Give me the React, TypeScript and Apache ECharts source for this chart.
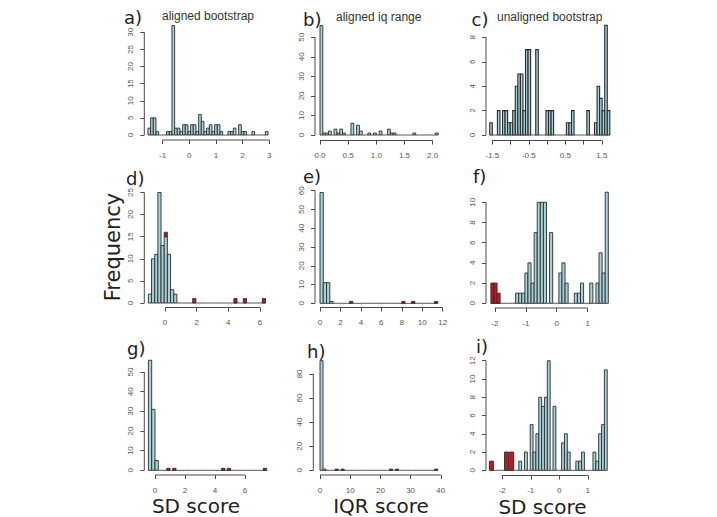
import React, { useEffect, useRef } from "react";
import * as echarts from "echarts";

// ---------- colours ----------
const BAR_FILL = "#a7d2dc";
const RED_FILL = "#c4161c";
const EDGE = "#2a2a2a";
const AXIS = "#4a4a4a";
const LABEL = "#555555";

// ---------- a) aligned bootstrap ----------
const aStart = -1.55;
const aBin = 0.1;
const aCounts = [2, 5, 5, 1, 0, 0, 0, 1, 1, 32, 2, 2, 1, 3, 3, 1, 3, 3, 1, 6, 4, 1, 2, 3, 1, 3, 3, 1, 0, 0, 1, 1, 2, 0, 3, 1, 1, 0, 0, 1, 0, 0, 0, 0, 1];
const aXTicks = [-1, 0, 1, 2, 3];
const aYTicks = [0, 5, 10, 15, 20, 25, 30];

// ---------- b) aligned iq range ----------
const bStart = 0;
const bBin = 0.05;
const bCounts = [56, 1, 1, 2, 0, 3, 1, 3, 1, 0, 0, 6, 0, 5, 2, 0, 0, 1, 0, 1, 0, 2, 0, 0, 3, 1, 1, 0, 0, 0, 0, 0, 0, 1, 0, 0, 0, 0, 0, 0, 0, 1];
const bXTicks = [0, 0.5, 1, 1.5, 2];
const bYTicks = [0, 10, 20, 30, 40, 50];

// ---------- c) unaligned bootstrap ----------
const cStart = -1.57;
const cBin = 0.07;
const cCounts = [1, 0, 0, 2, 0, 2, 2, 1, 1, 2, 4, 5, 5, 2, 7, 7, 0, 0, 7, 0, 0, 0, 2, 2, 2, 0, 0, 0, 0, 0, 1, 1, 2, 0, 0, 0, 0, 0, 2, 0, 0, 1, 4, 3, 2, 9, 2];
const cXTicks = [-1.5, -1, -0.5, 0, 0.5, 1, 1.5];
const cXLabels = [-1.5, -0.5, 0.5, 1.5];
const cYTicks = [0, 2, 4, 6, 8];

// ---------- d) ----------
const dStart = -1.05;
const dBin = 0.2;
const dCounts = [2, 10, 11, 25, 13, 15, 11, 3, 2, 0, 0, 0, 0, 0, 0, 0, 0, 0, 0, 0, 0, 0, 0, 0, 0, 0, 0, 0, 0, 0, 0, 0, 0, 0, 0, 0, 0];
const dRedStarts = [-0.05, 1.75, 4.35, 4.95, 6.15];
const dRedCounts = [1, 1, 1, 1, 1];
const dXTicks = [0, 2, 4, 6];
const dYTicks = [0, 5, 10, 15, 20, 25];

// ---------- e) ----------
const eStart = 0;
const eBin = 0.32;
const eCounts = [59, 11, 11, 1, 0, 0, 0, 0, 0, 0, 0, 0, 0, 0, 0, 0, 0, 0, 0, 0, 0, 0, 0, 0, 0, 0, 0, 0, 0, 0, 0, 0, 0, 0, 0, 0];
const eRedStarts = [2.88, 8.0, 8.96, 11.2];
const eRedCounts = [1, 1, 1, 1];
const eXTicks = [0, 2, 4, 6, 8, 10, 12];
const eYTicks = [0, 10, 20, 30, 40, 50, 60];

// ---------- f) ----------
const fStart = -2.13;
const fBin = 0.1;
const fCounts = [0, 0, 0, 0, 0, 0, 0, 0, 1, 1, 1, 3, 4, 2, 7, 10, 10, 10, 0, 7, 0, 0, 3, 4, 2, 0, 0, 1, 1, 2, 0, 0, 2, 0, 2, 5, 3, 11];
const fRedStarts = [-2.13, -2.03, -1.93];
const fRedCounts = [2, 2, 1];
const fXTicks = [-2, -1, 0, 1];
const fYTicks = [0, 2, 4, 6, 8, 10];

// ---------- g) ----------
const gStart = -0.44;
const gBin = 0.22;
const gCounts = [56, 31, 5, 0, 0, 0, 0, 0, 0, 0, 0, 0, 0, 0, 0, 0, 0, 0, 0, 0, 0, 0, 0, 0, 0, 0, 0, 0, 0, 0, 0, 0, 0, 0, 0, 0];
const gRedStarts = [0.78, 1.18, 4.44, 4.82, 7.22];
const gRedCounts = [1, 1, 1, 1, 1];
const gXTicks = [0, 2, 4, 6];
const gYTicks = [0, 10, 20, 30, 40, 50];

// ---------- h) ----------
const hStart = 0;
const hBin = 1;
const hCounts = [91, 1, 0, 0, 0, 0, 0, 0, 0, 0, 0, 0, 0, 0, 0, 0, 0, 0, 0, 0, 0, 0, 0, 0, 0, 0, 0, 0, 0, 0, 0, 0, 0, 0, 0, 0, 0, 0, 0];
const hRedStarts = [5, 7, 23, 25, 38];
const hRedCounts = [1, 1, 1, 1, 1];
const hXTicks = [0, 10, 20, 30, 40];
const hYTicks = [0, 20, 40, 60, 80];

// ---------- i) ----------
const iStart = -2.42;
const iBin = 0.1;
const iCounts = [0, 0, 0, 0, 0, 0, 0, 0, 0, 0, 1, 0, 2, 0, 5, 2, 4, 8, 7, 8, 12, 0, 7, 0, 0, 3, 4, 2, 0, 0, 1, 1, 2, 0, 0, 0, 2, 1, 4, 5, 11];
const iRedStarts = [-2.45, -1.92, -1.74];
const iRedCounts = [1, 2, 2];
const iXTicks = [-2, -1, 0, 1];
const iYTicks = [0, 2, 4, 6, 8, 10, 12];

type Hist = { start: number; bin: number; counts: number[] };
type Red = { starts: number[]; counts: number[]; bin: number } | null;
type Frame = {
  yAxisX: number; xAxisY: number; xZero: number; xPpu: number;
  yZero: number; yPpu: number; xMax: number; yMax: number;
};
type Panel = {
  hist: Hist; red: Red; xTicks: number[]; xLabels: number[]; yTicks: number[];
  digits: number; edge: number; frame: Frame;
};

const panels: Panel[] = [
  { hist: { start: aStart, bin: aBin, counts: aCounts }, red: null, xTicks: aXTicks, xLabels: aXTicks, yTicks: aYTicks, digits: 0, edge: 0.9,
    frame: { yAxisX: 144.3, xAxisY: 140, xZero: 189.3, xPpu: 26.67, yZero: 135, yPpu: 3.423, xMax: 3.1, yMax: 33 } },
  { hist: { start: bStart, bin: bBin, counts: bCounts }, red: null, xTicks: bXTicks, xLabels: bXTicks, yTicks: bYTicks, digits: 1, edge: 0.9,
    frame: { yAxisX: 315, xAxisY: 140.5, xZero: 320, xPpu: 56.3, yZero: 135, yPpu: 1.954, xMax: 2.15, yMax: 57 } },
  { hist: { start: cStart, bin: cBin, counts: cCounts }, red: null, xTicks: cXTicks, xLabels: cXLabels, yTicks: cYTicks, digits: 1, edge: 1.1,
    frame: { yAxisX: 486, xAxisY: 140.5, xZero: 547.05, xPpu: 36.5, yZero: 135, yPpu: 12.2, xMax: 1.75, yMax: 9.2 } },
  { hist: { start: dStart, bin: dBin, counts: dCounts }, red: { starts: dRedStarts, counts: dRedCounts, bin: dBin }, xTicks: dXTicks, xLabels: dXTicks, yTicks: dYTicks, digits: 0, edge: 0.9,
    frame: { yAxisX: 144.3, xAxisY: 307.5, xZero: 165, xPpu: 15.83, yZero: 303, yPpu: 4.42, xMax: 6.5, yMax: 26 } },
  { hist: { start: eStart, bin: eBin, counts: eCounts }, red: { starts: eRedStarts, counts: eRedCounts, bin: eBin }, xTicks: eXTicks, xLabels: eXTicks, yTicks: eYTicks, digits: 0, edge: 0.9,
    frame: { yAxisX: 315, xAxisY: 307.5, xZero: 320, xPpu: 10.22, yZero: 303.3, yPpu: 1.877, xMax: 12.2, yMax: 61 } },
  { hist: { start: fStart, bin: fBin, counts: fCounts }, red: { starts: fRedStarts, counts: fRedCounts, bin: fBin }, xTicks: fXTicks, xLabels: fXTicks, yTicks: fYTicks, digits: 0, edge: 0.9,
    frame: { yAxisX: 486, xAxisY: 308, xZero: 556.7, xPpu: 30.9, yZero: 303.3, yPpu: 10.1, xMax: 1.72, yMax: 11.2 } },
  { hist: { start: gStart, bin: gBin, counts: gCounts }, red: { starts: gRedStarts, counts: gRedCounts, bin: gBin }, xTicks: gXTicks, xLabels: gXTicks, yTicks: gYTicks, digits: 0, edge: 0.9,
    frame: { yAxisX: 144.3, xAxisY: 475, xZero: 155, xPpu: 15, yZero: 470.3, yPpu: 1.965, xMax: 7.5, yMax: 57 } },
  { hist: { start: hStart, bin: hBin, counts: hCounts }, red: { starts: hRedStarts, counts: hRedCounts, bin: hBin }, xTicks: hXTicks, xLabels: hXTicks, yTicks: hYTicks, digits: 0, edge: 0.9,
    frame: { yAxisX: 313.3, xAxisY: 475, xZero: 320, xPpu: 3.02, yZero: 470.3, yPpu: 1.205, xMax: 40, yMax: 92 } },
  { hist: { start: iStart, bin: iBin, counts: iCounts }, red: { starts: iRedStarts, counts: iRedCounts, bin: 0.14 }, xTicks: iXTicks, xLabels: iXTicks, yTicks: iYTicks, digits: 0, edge: 0.9,
    frame: { yAxisX: 486, xAxisY: 475.5, xZero: 559.3, xPpu: 28.53, yZero: 470.3, yPpu: 9.13, xMax: 1.75, yMax: 12.2 } },
];

const panelTags = ["a)", "b)", "c)", "d)", "e)", "f)", "g)", "h)", "i)"];
const tagPos = [
  [124, 17.5], [303, 19], [471.5, 19],
  [126, 178], [303, 176.5], [473, 176.5],
  [127, 348], [307, 351], [476, 346.5],
];
const titles = ["aligned bootstrap", "aligned iq range", "unaligned bootstrap"];
const titlePos = [[208, 16], [378.7, 16.7], [549.7, 16.5]];
const xTitles = ["SD score", "IQR score", "SD score"];
const xTitlePos = [[196, 506], [381, 506], [542.5, 506.5]];

// bins as [left edge, right edge, bottom, top]
function blueItems(h: Hist) {
  return h.counts.map((c, i) => [h.start + i * h.bin, h.start + (i + 1) * h.bin, 0, c]);
}

// red bars sit on top of whatever the blue bin under them holds
function redItems(h: Hist, r: NonNullable<Red>) {
  return r.starts.map((s, i) => {
    const mid = s + r.bin / 2;
    const k = Math.floor((mid - h.start) / h.bin);
    const base = k >= 0 && k < h.counts.length ? h.counts[k] : 0;
    return [s, s + r.bin, base, base + r.counts[i]];
  });
}

function barRenderer(fill: string, edge: number) {
  return (_params: any, api: any) => {
    const x0 = api.value(0);
    const x1 = api.value(1);
    const b = api.value(2);
    const t = api.value(3);
    const p0 = api.coord([x0, b]);
    const p1 = api.coord([x1, t]);
    if (t === b) {
      return {
        type: "line",
        shape: { x1: p0[0], y1: p0[1], x2: p1[0], y2: p0[1] },
        style: { stroke: EDGE, lineWidth: 0.8 },
      };
    }
    return {
      type: "rect",
      shape: { x: p0[0], y: p1[1], width: p1[0] - p0[0], height: p0[1] - p1[1] },
      style: { fill, stroke: EDGE, lineWidth: edge },
    };
  };
}

// R-style axis lines: spanning first to last tick only
function axisRenderer(_params: any, api: any) {
  const xMin = api.value(0);
  const yLo = api.value(1);
  const yHi = api.value(2);
  const xLo = api.value(3);
  const xHi = api.value(4);
  const yMin = api.value(5);
  const a = api.coord([xMin, yLo]);
  const b = api.coord([xMin, yHi]);
  const c = api.coord([xLo, yMin]);
  const d = api.coord([xHi, yMin]);
  return {
    type: "group",
    children: [
      { type: "line", shape: { x1: a[0], y1: a[1], x2: b[0], y2: b[1] }, style: { stroke: AXIS, lineWidth: 1 } },
      { type: "line", shape: { x1: c[0], y1: c[1], x2: d[0], y2: d[1] }, style: { stroke: AXIS, lineWidth: 1 } },
    ],
  };
}

function buildOption() {
  const grid: any[] = [];
  const xAxis: any[] = [];
  const yAxis: any[] = [];
  const series: any[] = [];

  panels.forEach((p, idx) => {
    const f = p.frame;
    const top = f.yZero - f.yMax * f.yPpu;
    const xMin = (f.yAxisX - f.xZero) / f.xPpu;
    const yMin = -(f.xAxisY - f.yZero) / f.yPpu;
    grid.push({
      left: f.yAxisX,
      top,
      width: f.xZero + f.xMax * f.xPpu - f.yAxisX,
      height: f.xAxisY - top,
      containLabel: false,
      outerBoundsMode: "none",
    });
    const fmt = (v: number) => (p.digits > 0 ? v.toFixed(p.digits) : String(v));
    xAxis.push({
      gridIndex: idx,
      type: "value",
      min: xMin,
      max: f.xMax,
      axisLine: { show: false, onZero: false },
      splitLine: { show: false },
      axisTick: { show: true, customValues: p.xTicks, length: 4, lineStyle: { color: AXIS, width: 1 } },
      axisLabel: {
        customValues: p.xLabels,
        fontSize: 8,
        lineHeight: 9,
        fontFamily: "Liberation Sans",
        color: LABEL,
        margin: 10.5,
        formatter: fmt,
      },
    });
    yAxis.push({
      gridIndex: idx,
      type: "value",
      min: yMin,
      max: f.yMax,
      axisLine: { show: false, onZero: false },
      splitLine: { show: false },
      axisTick: { show: true, customValues: p.yTicks, length: 4, lineStyle: { color: AXIS, width: 1 } },
      axisLabel: {
        customValues: p.yTicks,
        rotate: 90,
        fontSize: 8,
        lineHeight: 9,
        fontFamily: "Liberation Sans",
        color: LABEL,
        margin: 9.5,
      },
    });
    series.push({
      type: "custom",
      xAxisIndex: idx,
      yAxisIndex: idx,
      silent: true,
      renderItem: barRenderer(BAR_FILL, p.edge),
      encode: { x: [0, 1], y: [2, 3] },
      data: blueItems(p.hist),
    });
    if (p.red) {
      series.push({
        type: "custom",
        xAxisIndex: idx,
        yAxisIndex: idx,
        silent: true,
        renderItem: barRenderer(RED_FILL, p.edge),
        encode: { x: [0, 1], y: [2, 3] },
        data: redItems(p.hist, p.red),
      });
    }
    series.push({
      type: "custom",
      xAxisIndex: idx,
      yAxisIndex: idx,
      silent: true,
      renderItem: axisRenderer,
      data: [[xMin, p.yTicks[0], p.yTicks[p.yTicks.length - 1], p.xTicks[0], p.xTicks[p.xTicks.length - 1], yMin]],
    });
  });

  const graphic: any[] = [];
  panelTags.forEach((t, i) => {
    graphic.push({
      type: "text",
      x: tagPos[i][0],
      y: tagPos[i][1],
      style: { text: t, fontSize: 18, lineHeight: 18, fontFamily: "DejaVu Sans", fill: "#222", align: "left", verticalAlign: "middle" },
    });
  });
  titles.forEach((t, i) => {
    graphic.push({
      type: "text",
      x: titlePos[i][0],
      y: titlePos[i][1],
      style: { text: t, fontSize: 12, lineHeight: 12, fontFamily: "Liberation Sans", fill: "#333", align: "center", verticalAlign: "middle" },
    });
  });
  xTitles.forEach((t, i) => {
    graphic.push({
      type: "text",
      x: xTitlePos[i][0],
      y: xTitlePos[i][1],
      style: { text: t, fontSize: 20, lineHeight: 20, fontFamily: "DejaVu Sans", fill: "#222", align: "center", verticalAlign: "middle" },
    });
  });
  graphic.push({
    type: "text",
    x: 113,
    y: 247,
    rotation: Math.PI / 2,
    style: { text: "Frequency", fontSize: 21, lineHeight: 21, fontFamily: "DejaVu Sans", fill: "#222", align: "center", verticalAlign: "middle" },
  });

  return {
    animation: false,
    backgroundColor: "#ffffff",
    grid,
    xAxis,
    yAxis,
    series,
    graphic,
  };
}

export default function App() {
  const ref = useRef<HTMLDivElement>(null);
  useEffect(() => {
    document.body.style.margin = "0";
    const chart = echarts.init(ref.current!, null, { renderer: "svg" });
    chart.setOption(buildOption() as any);
    return () => chart.dispose();
  }, []);
  return (
    <div
      ref={ref}
      style={{ position: "absolute", left: 0, top: 0, width: 717, height: 517, background: "#fff" }}
    />
  );
}
